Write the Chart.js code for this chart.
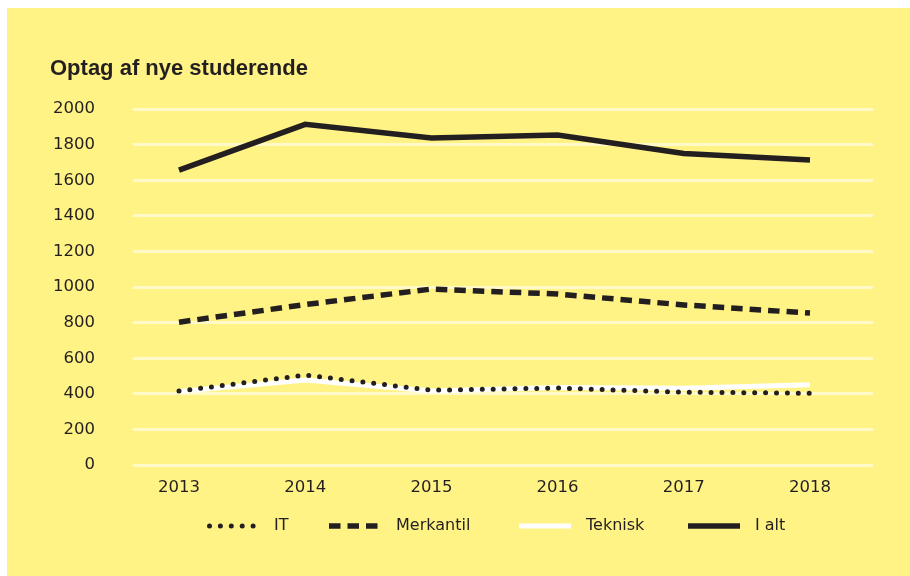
<!DOCTYPE html>
<html>
<head>
<meta charset="utf-8">
<script src="https://cdn.jsdelivr.net/npm/chart.js@4"></script>
<style>
    body { margin: 0; background: #ffffff; }
    #panel { position: absolute; left: 7px; top: 8px; width: 903px; height: 568px; background: #FFF385; }
</style>
</head>
<body>
<div id="panel"><canvas id="optagChart" width="903" height="568"></canvas></div>
<script>
// values
var years = [2013, 2014, 2015, 2016, 2017, 2018];
var itValues = [416, 506, 421, 433, 410, 404];
var merkantilValues = [803, 902, 989, 961, 900, 854];
var tekniskValues = [414, 478, 416, 436, 432, 452];
var iAltValues = [1657, 1914, 1837, 1854, 1750, 1713];
var seriesNames = ['IT', 'Merkantil', 'Teknisk', 'I alt'];
var yTicks = [0, 200, 400, 600, 800, 1000, 1200, 1400, 1600, 1800, 2000];

var ink = '#231F20';
var bodyFont = 'DejaVu Sans';

// left edge of each legend sample, in canvas pixels
var legendX = [200, 322, 512, 681];

function toPoints(values)
{
    return years.map(function(year, i) {
        return { x: year, y: values[i] };
    });
}

// draws the legend row under the axis, using the same line styles as the datasets
var lineLegend = {
    id: 'lineLegend',
    afterDraw: function(chart) {
        var ctx = chart.ctx;
        var y = 518;
        chart.data.datasets.forEach(function(ds, i) {
            var x = legendX[i];
            ctx.save();
            ctx.strokeStyle = ds.borderColor;
            ctx.lineWidth = ds.borderWidth;
            ctx.lineCap = ds.borderCapStyle || 'butt';
            ctx.setLineDash(ds.borderDash || []);
            ctx.beginPath();
            if (ds.borderCapStyle === 'round') {
                ctx.moveTo(x + 2.5, y);
                ctx.lineTo(x + 48, y);
            } else {
                ctx.moveTo(x, y);
                ctx.lineTo(x + 52, y);
            }
            ctx.stroke();
            ctx.restore();

            ctx.save();
            ctx.fillStyle = ink;
            ctx.font = '16px "' + bodyFont + '"';
            ctx.textBaseline = 'middle';
            ctx.textAlign = 'left';
            ctx.fillText(ds.label, x + 67, y);
            ctx.restore();
        });
    }
};

var ctx = document.getElementById('optagChart').getContext('2d');
var myChart = new Chart(ctx, {
    type: 'line',
    data: {
        datasets: [{
            label: seriesNames[0],
            data: toPoints(itValues),
            borderColor: ink,
            borderWidth: 5,
            borderDash: [0, 10.9],
            borderCapStyle: 'round'
        }, {
            label: seriesNames[1],
            data: toPoints(merkantilValues),
            borderColor: ink,
            borderWidth: 5.5,
            borderDash: [11.5, 7],
            borderCapStyle: 'butt'
        }, {
            label: seriesNames[2],
            data: toPoints(tekniskValues),
            borderColor: '#ffffff',
            borderWidth: 5,
            borderCapStyle: 'butt'
        }, {
            label: seriesNames[3],
            data: toPoints(iAltValues),
            borderColor: ink,
            borderWidth: 5.5,
            borderCapStyle: 'butt'
        }]
    },
    options: {
        responsive: false,
        animation: false,
        elements: {
            point: { radius: 0, hoverRadius: 0 },
            line: { tension: 0, fill: false }
        },
        layout: {
            padding: { left: 43, right: 37, top: 48, bottom: 65 }
        },
        plugins: {
            legend: { display: false },
            tooltip: { enabled: false },
            title: {
                display: true,
                text: 'Optag af nye studerende',
                align: 'start',
                color: ink,
                font: { family: 'Liberation Sans', size: 22, weight: 'bold' },
                padding: { top: 0, bottom: 26.6 }
            }
        },
        scales: {
            x: {
                type: 'linear',
                min: 2012.6355,
                max: 2018.4992,
                grid: { display: false, drawTicks: false },
                border: { display: false },
                ticks: {
                    stepSize: 1,
                    includeBounds: false,
                    maxRotation: 0,
                    padding: 13,
                    color: ink,
                    font: { family: bodyFont, size: 16.5 },
                    callback: function(value) { return String(value); }
                }
            },
            y: {
                min: yTicks[0],
                max: yTicks[yTicks.length - 1],
                afterFit: function(scale) { scale.width = 83; },
                afterBuildTicks: function(scale) {
                    scale.ticks = yTicks.map(function(v) { return { value: v }; });
                },
                grid: { color: 'rgba(255, 255, 255, 0.55)', lineWidth: 3, drawTicks: false },
                border: { display: false },
                ticks: {
                    padding: 38,
                    color: ink,
                    font: { family: bodyFont, size: 16.5 },
                    callback: function(value) { return String(value); }
                }
            }
        }
    },
    plugins: [lineLegend]
});
</script>
</body>
</html>
